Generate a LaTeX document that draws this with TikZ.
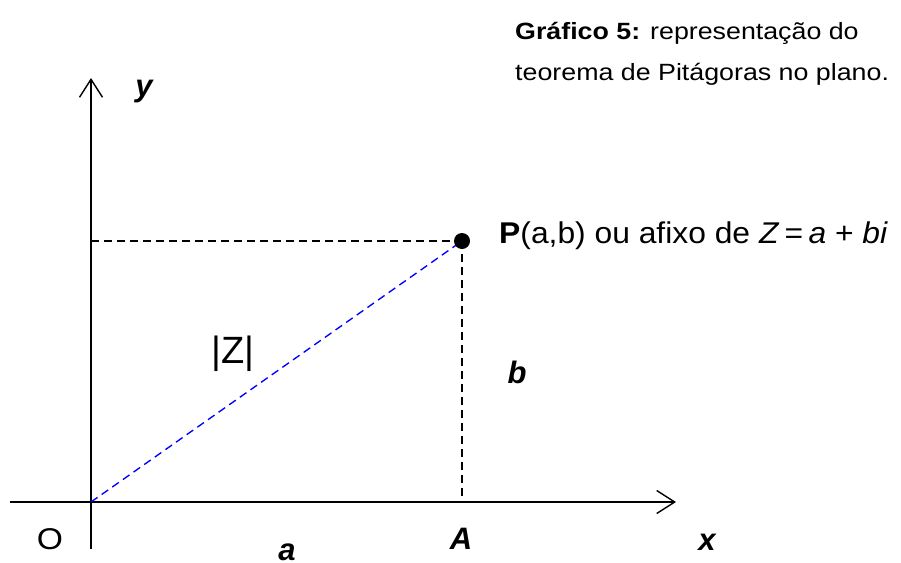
\documentclass[tikz,border=0pt]{standalone}
\usepackage{fontspec}
\setmainfont{Liberation Sans}
\usetikzlibrary{arrows.meta}
\begin{document}
\begin{tikzpicture}[x=1pt,y=-1pt,
  axis/.style={line width=1.8pt,-{Straight Barb[length=18pt,width=23pt,line width=1.4pt]}},
  guide/.style={line width=1.35pt,dash pattern=on 8pt off 5pt},
  lbl/.style={inner sep=0pt,anchor=base,font=\fontsize{31}{33}\selectfont\bfseries\itshape},
  captext/.style={inner sep=0pt,anchor=base west,font=\fontsize{23.5}{26}\selectfont}]
\useasboundingbox (0,0) rectangle (901,562);
\coordinate (O) at (91,502);
\coordinate (xs) at (10,502);
\coordinate (xe) at (676,502);
\coordinate (ys) at (91,549);
\coordinate (ye) at (91,78);
\coordinate (Pa) at (462,241);
\coordinate (Ay) at (91,241);
\coordinate (Ax) at (462,502);
\draw[axis] (xs) -- (xe);
\draw[axis,line width=1.5pt] (ys) -- (ye);
\draw[guide] (Ay) -- (Pa);
\draw[guide] (Pa) -- (Ax);
\draw[guide,blue] (O) -- (Pa);
\fill (Pa) circle (8pt);
\node[lbl] (ylab) at (144,96) {y};
\node[lbl] (xlab) at (707,550) {x};
\node[lbl] (Alab) at (461,549) {A};
\node[lbl] (alab) at (287,560) {a};
\node[lbl] (blab) at (517,383) {b};
\node[inner sep=0pt,anchor=base,font=\fontsize{30}{32}\selectfont] (Olab) at (50,549) {\scalebox{1.12}[1]{O}};
\node[inner sep=0pt,anchor=base,font=\fontsize{38}{40}\selectfont] (Zlab) at (233,363) {|Z|};
\node[inner sep=0pt,anchor=base west,font=\fontsize{30}{32}\selectfont] (Plab) at (499,243) {\scalebox{1.06}[1]{\textbf{P}(a,b) ou afixo de \textit{Z}\,=\,\textit{a} + \textit{bi}}};
\node[captext] (c1) at (515,39) {\scalebox{1.14}[1]{\textbf{Gráfico 5:} representação do}};
\node[captext] (c2) at (515,80) {\scalebox{1.14}[1]{teorema de Pitágoras no plano.}};
\end{tikzpicture}
\end{document}
